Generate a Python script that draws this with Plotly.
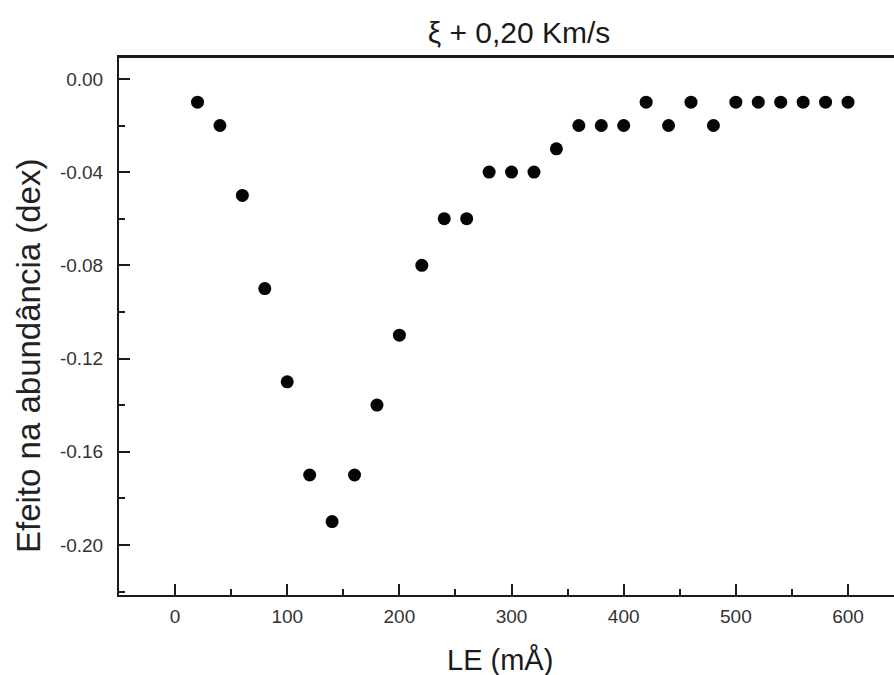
import plotly.graph_objects as go

# Data
le_mA = [20, 40, 60, 80, 100, 120, 140, 160, 180, 200,
         220, 240, 260, 280, 300, 320, 340, 360, 380, 400,
         420, 440, 460, 480, 500, 520, 540, 560, 580, 600]
efeito_dex = [-0.01, -0.02, -0.05, -0.09, -0.13, -0.17, -0.19, -0.17, -0.14, -0.11,
              -0.08, -0.06, -0.06, -0.04, -0.04, -0.04, -0.03, -0.02, -0.02, -0.02,
              -0.01, -0.02, -0.01, -0.02, -0.01, -0.01, -0.01, -0.01, -0.01, -0.01]

title_text = "ξ + 0,20 Km/s"
x_title = "LE (mÅ)"
y_title = "Efeito na abundância (dex)"
x_tickvals = [0, 100, 200, 300, 400, 500, 600]
y_tickvals = [0.00, -0.04, -0.08, -0.12, -0.16, -0.20]
y_ticktext = ["0.00", "-0.04", "-0.08", "-0.12", "-0.16", "-0.20"]

FONT = "Liberation Sans, Arial, Helvetica, sans-serif"
INK = "#1a1a1a"

fig = go.Figure()
fig.add_trace(go.Scatter(
    x=le_mA, y=efeito_dex, mode="markers",
    marker=dict(symbol="circle", size=13, color="#050505", line=dict(width=0)),
    showlegend=False, hoverinfo="x+y",
))

W, H = 894, 675
L, T, B, R = 119, 57, 80, 0
pw = W - L - R
ph = H - T - B

fig.update_layout(
    width=W, height=H,
    margin=dict(l=L, r=R, t=T, b=B, pad=0),
    paper_bgcolor="white", plot_bgcolor="white",
    font=dict(family=FONT, color=INK, size=18),
    title=dict(text=title_text, x=519 / W, xref="container", xanchor="center",
               y=1 - 32 / H, yref="container", yanchor="middle",
               font=dict(size=30, family=FONT, color=INK)),
    xaxis=dict(
        range=[-50, 641], tickmode="array", tickvals=x_tickvals,
        ticks="inside", ticklen=11, tickwidth=2, tickcolor=INK,
        minor=dict(ticks="inside", ticklen=6, tickwidth=2, tickcolor=INK, dtick=50, showgrid=False),
        showline=True, linewidth=2, linecolor=INK, mirror=True,
        showgrid=False, zeroline=False,
        tickfont=dict(size=19, family=FONT, color="#333"),
        ticklabelstandoff=3,
    ),
    yaxis=dict(
        range=[-0.2215, 0.0094], tickmode="array", tickvals=y_tickvals, ticktext=y_ticktext,
        ticks="inside", ticklen=11, tickwidth=2, tickcolor=INK,
        minor=dict(ticks="inside", ticklen=6, tickwidth=2, tickcolor=INK, dtick=0.02, showgrid=False),
        showline=True, linewidth=2, linecolor=INK, mirror=False,
        showgrid=False, zeroline=False,
        tickfont=dict(size=19, family=FONT, color="#333"),
        ticklabelstandoff=10,
    ),
    shapes=[
        dict(type="line", xref="paper", yref="paper", x0=0, x1=1, y0=1, y1=1,
             line=dict(color=INK, width=2)),
    ],
    annotations=[
        dict(text=x_title, xref="paper", yref="paper",
             x=(500 - L) / pw, y=-(660 - (T + ph)) / ph,
             xanchor="center", yanchor="middle", showarrow=False,
             font=dict(size=29, family=FONT, color=INK)),
        dict(text=y_title, xref="paper", yref="paper",
             x=(28 - L) / pw, y=(T + ph - 356) / ph, textangle=-90,
             xanchor="center", yanchor="middle", showarrow=False,
             font=dict(size=33, family=FONT, color="#222")),
    ],
)

fig.write_html("out.html")
